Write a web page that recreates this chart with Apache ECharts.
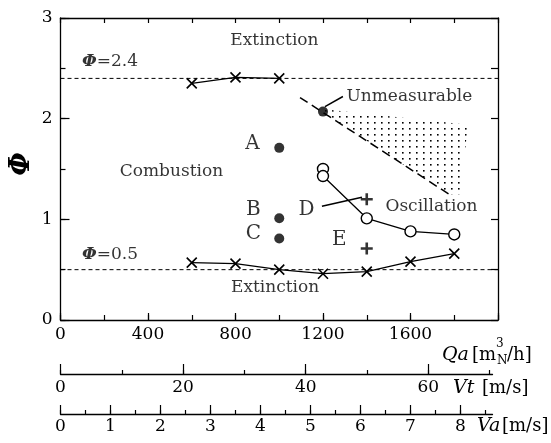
<!DOCTYPE html>
<html><head><meta charset="utf-8">
<script src="https://cdn.jsdelivr.net/npm/echarts@6/dist/echarts.min.js"></script>
<style>html,body{margin:0;padding:0;background:#fff}#c{width:551px;height:443px}</style>
</head><body><div id="c"></div>
<script>
// ---- data ----
const upperExt = [[600,2.35],[800,2.41],[1000,2.40]];
const lowerExt = [[600,0.57],[800,0.56],[1000,0.50],[1200,0.46],[1400,0.48],[1600,0.58],[1800,0.66]];
const oscLine = [[1200,1.50],[1200,1.43],[1400,1.01],[1600,0.88],[1800,0.85]];
const filledPts = [[1000,1.71],[1000,1.01],[1000,0.81],[1200,2.07]];
const plusPts = [[1400,1.20],[1400,0.71]];
const limitHigh = 2.4, limitLow = 0.5;
const boundary = [[1095,2.21],[1790,1.23]];
const dotRegion = [[1173,2.10],[1863,1.94],[1826,1.25],[1775,1.25]];
const leaderD = [[1195,1.13],[1378,1.22]];
const leaderU = [[1209,2.12],[1291,2.22]];
const qaRange = [0, 2000], qaStep = 400, qaMinorStep = 200;
const phiRange = [0, 3], phiStep = 1, phiMinorStep = 0.5;
const vtMajorMax = 60, vtMinorMax = 70, vtStep = 20, vtMinorStep = 10;
const vaMajorMax = 8, vaMinorMax = 8.5, vaStep = 1, vaMinorStep = 0.5;
const annotations = [
  {pos:[978,2.78], text:'Extinction', size:17},
  {pos:[981,0.32], text:'Extinction', size:17},
  {pos:[226,2.57], text:'{i|Φ}{n|=2.4}', size:17},
  {pos:[226,0.65], text:'{i|Φ}{n|=0.5}', size:17},
  {pos:[507,1.47], text:'Combustion', size:17},
  {pos:[1595,2.22], text:'Unmeasurable', size:17},
  {pos:[1696,1.13], text:'Oscillation', size:17},
  {pos:[878,1.755], text:'A', size:20},
  {pos:[882,1.095], text:'B', size:20},
  {pos:[882,0.855], text:'C', size:20},
  {pos:[1125,1.095], text:'D', size:20},
  {pos:[1275,0.795], text:'E', size:20}
];

const F = 'DejaVu Serif';
const K = '#000';

// dot pattern for the unmeasurable region
const pc = document.createElement('canvas');
pc.width = 7; pc.height = 6;
const pctx = pc.getContext('2d');
pctx.fillStyle = '#000';
pctx.fillRect(3, 2, 1.6, 1.6);

const chart = echarts.init(document.getElementById('c'), null, {renderer:'canvas'});

// layout geometry
const L = 60.5, T = 18, W = 437.5, H = 302;
const vtPx = 6.13, vaPx = 50;
const g = (l, t, w, h) => ({left:l, top:t, width:w, height:h, outerBoundsMode:'none', containLabel:false});
// tick lengths of the plot frame (ticks point into the plot)
const tkB = 7, tkBm = 5, tkT = 5, tkL = 9, tkLm = 5, tkR = 7;

const grids = [
  g(L, T, W, H),                      // 0 main (data + frame lines + labels)
  g(L, T, 432, H),                    // 1 secondary axis lines
  g(L, T, vtMinorMax*vtPx, H),        // 2 Vt minor ticks
  g(L, T, vtMajorMax*vtPx, H),        // 3 Vt major ticks + labels
  g(L, T, vaMinorMax*vaPx, H),        // 4 Va minor ticks
  g(L, T, vaMajorMax*vaPx, H),        // 5 Va major ticks + labels
  g(L, T, W, H-tkB),                  // 6 bottom major ticks
  g(L, T, W, H-tkBm),                 // 7 bottom minor ticks
  g(L, T+tkT, W, H-tkT),              // 8 top ticks
  g(L+tkL, T, W-tkL, H),              // 9 left major ticks
  g(L+tkLm, T, W-tkLm, H),            // 10 left minor ticks
  g(L, T, W-tkR, H)                   // 11 right ticks
];

const lineOn = {show:true, onZero:false, lineStyle:{color:K, width:1.3}};
const lineOff = {show:false, onZero:false};
const lbl = (margin, fn) => ({show:true, margin:margin, formatter:fn, fontFamily:F, fontSize:17, color:K});
const tick = len => ({show:true, inside:true, length:len, lineStyle:{color:K, width:1.2}});
const tickOut = len => ({show:true, inside:false, length:len, lineStyle:{color:K, width:1.2}});
function ax(o) {
  return Object.assign({type:'value', splitLine:{show:false}, axisLine:lineOff, axisTick:{show:false}, axisLabel:{show:false}}, o);
}
const hid = gi => ax({gridIndex:gi, min:0, max:1, show:false});
const qaFmt = v => (v % qaStep === 0 && v < qaRange[1]) ? String(v) : '';

const xAxis = [
  ax({gridIndex:0, min:qaRange[0], max:qaRange[1], interval:qaStep, position:'bottom', axisLine:lineOn, axisLabel:lbl(6, qaFmt)}),
  ax({gridIndex:0, min:qaRange[0], max:qaRange[1], position:'top', axisLine:lineOn}),
  ax({gridIndex:1, min:0, max:1, position:'bottom', offset:54, axisLine:lineOn}),
  ax({gridIndex:1, min:0, max:1, position:'top', offset:-94-H, axisLine:lineOn}),
  ax({gridIndex:2, min:0, max:vtMinorMax, interval:vtMinorStep, position:'bottom', offset:54, axisTick:tick(4)}),
  ax({gridIndex:3, min:0, max:vtMajorMax, interval:vtStep, position:'bottom', offset:54, axisTick:tick(10), axisLabel:lbl(5, v => String(v))}),
  ax({gridIndex:4, min:0, max:vaMinorMax, interval:vaMinorStep, position:'bottom', offset:94, axisTick:tick(4)}),
  ax({gridIndex:5, min:0, max:vaMajorMax, interval:vaStep, position:'bottom', offset:94, axisTick:tick(9), axisLabel:lbl(4, v => String(v))}),
  ax({gridIndex:6, min:qaRange[0], max:qaRange[1], interval:qaStep, position:'bottom', axisTick:tickOut(tkB)}),
  ax({gridIndex:7, min:qaRange[0], max:qaRange[1], interval:qaMinorStep, position:'bottom', axisTick:tickOut(tkBm)}),
  ax({gridIndex:8, min:qaRange[0], max:qaRange[1], interval:qaMinorStep, position:'top', axisTick:tickOut(tkT)}),
  hid(9), hid(10), hid(11)
];
const yAxis = [
  ax({gridIndex:0, min:phiRange[0], max:phiRange[1], interval:phiStep, position:'left', axisLine:lineOn, axisLabel:lbl(8, v => String(v))}),
  ax({gridIndex:0, min:phiRange[0], max:phiRange[1], position:'right', axisLine:lineOn}),
  hid(1), hid(2), hid(3), hid(4), hid(5), hid(6), hid(7), hid(8),
  ax({gridIndex:9, min:phiRange[0], max:phiRange[1], interval:phiStep, position:'left', axisTick:tickOut(tkL)}),
  ax({gridIndex:10, min:phiRange[0], max:phiRange[1], interval:phiMinorStep, position:'left', axisTick:tickOut(tkLm)}),
  ax({gridIndex:11, min:phiRange[0], max:phiRange[1], interval:phiMinorStep, position:'right', axisTick:tickOut(tkR)})
];

const option = {
  backgroundColor:'#fff',
  animation:false,
  grid:grids,
  xAxis:xAxis,
  yAxis:yAxis,
  series:[
    {type:'custom', xAxisIndex:0, yAxisIndex:0, data:[[1500,1.6]], silent:true, z:1,
     renderItem:function(params, api){
       const pts = dotRegion.map(p => api.coord(p));
       return {type:'polygon', shape:{points:pts}, style:{fill:{image:pc, repeat:'repeat'}, stroke:null}};
     }},
    {type:'line', data:[[qaRange[0],limitHigh],[qaRange[1],limitHigh]], symbol:'none', lineStyle:{color:K, width:1, type:[4,3]}, z:2},
    {type:'line', data:[[qaRange[0],limitLow],[qaRange[1],limitLow]], symbol:'none', lineStyle:{color:K, width:1, type:[4,3]}, z:2},
    {type:'line', data:boundary, symbol:'none', lineStyle:{color:K, width:1.5, type:[9,5]}, z:2},
    {type:'line', data:leaderD, symbol:'none', lineStyle:{color:K, width:1.5}, z:3},
    {type:'line', data:leaderU, symbol:'none', lineStyle:{color:K, width:1.5}, z:3},
    {type:'line', data:upperExt, symbol:'path://M0,0L10,10M10,0L0,10', symbolSize:10,
     itemStyle:{color:K, borderColor:K, borderWidth:1.6}, lineStyle:{color:K, width:1.3}, z:4},
    {type:'line', data:lowerExt, symbol:'path://M0,0L10,10M10,0L0,10', symbolSize:10,
     itemStyle:{color:K, borderColor:K, borderWidth:1.6}, lineStyle:{color:K, width:1.3}, z:4},
    {type:'line', data:oscLine, symbol:'circle', symbolSize:11, showAllSymbol:true,
     itemStyle:{color:'#fff', borderColor:K, borderWidth:1.4}, lineStyle:{color:K, width:1.3}, z:4},
    {type:'scatter', data:filledPts, symbol:'circle', symbolSize:10, itemStyle:{color:K}, z:5},
    {type:'scatter', data:plusPts, symbol:'path://M5,0L5,10M0,5L10,5', symbolSize:12,
     itemStyle:{color:K, borderColor:K, borderWidth:2.6}, z:5},
    {type:'scatter', symbolSize:0, silent:true, z:6, itemStyle:{color:K},
     data:annotations.map(a => ({value:a.pos, label:{show:true, position:[0,0], align:'center', verticalAlign:'middle',
       formatter:a.text, fontFamily:F, fontSize:a.size, color:K, textBorderWidth:0,
       rich:{i:{fontFamily:F, fontSize:a.size, fontStyle:'italic', fontWeight:'bold', color:K},
             n:{fontFamily:F, fontSize:a.size, color:K}}}}))}
  ],
  graphic:[
    {type:'text', x:22, y:164, rotation:Math.PI/2,
     style:{text:'Φ', font:'italic bold 27px "DejaVu Serif"', fill:K, align:'center', verticalAlign:'middle'}},
    {type:'text', left:442, top:346, style:{text:'Qa', font:'italic 19px "DejaVu Serif"', fill:K}},
    {type:'text', left:472, top:346, style:{text:'[m', font:'18px "DejaVu Serif"', fill:K}},
    {type:'text', left:496, top:338, style:{text:'3', font:'12px "DejaVu Serif"', fill:K}},
    {type:'text', left:497, top:355, style:{text:'N', font:'12px "DejaVu Serif"', fill:K}},
    {type:'text', left:507, top:346, style:{text:'/h]', font:'18px "DejaVu Serif"', fill:K}},
    {type:'text', left:453, top:379, style:{text:'Vt', font:'italic 19px "DejaVu Serif"', fill:K}},
    {type:'text', left:482, top:379, style:{text:'[m/s]', font:'18px "DejaVu Serif"', fill:K}},
    {type:'text', left:477, top:417, style:{text:'Va', font:'italic 19px "DejaVu Serif"', fill:K}},
    {type:'text', left:502, top:417, style:{text:'[m/s]', font:'18px "DejaVu Serif"', fill:K}}
  ]
};
chart.setOption(option);
</script>
</body></html>
